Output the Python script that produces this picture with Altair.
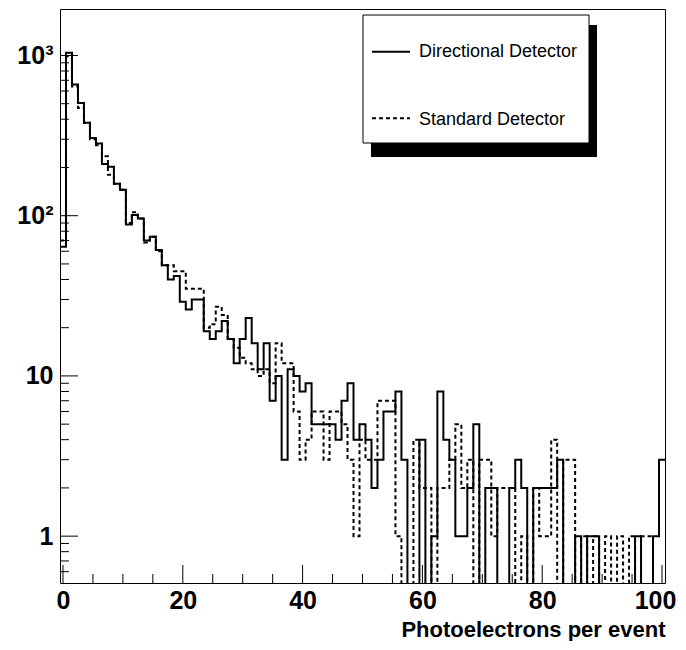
import altair as alt
import pandas as pd

# ---- data (bin centres 0..100, counts per bin) ----
bins = list(range(0, 101))
directional = [
    64, 1040, 660, 505, 380, 305, 282, 210, 202, 158,
    145, 88, 101, 96, 70, 74, 61, 49, 40, 42,
    29, 26, 30, 30, 19, 17, 19, 22, 17, 12,
    17, 23, 16, 11, 16, 7, 10, 3, 11, 10,
    8, 9, 5, 5, 5, 5, 4, 7, 9, 4,
    5, 4, 2, 3, 6, 6, 8, 3, 0, 0,
    4, 0, 1, 8, 4, 3, 1, 1, 2, 5,
    0, 2, 2, 0, 0, 2, 3, 2, 0, 2,
    2, 2, 2, 3, 0, 0, 1, 0, 1, 1,
    0, 0, 0, 0, 0, 0, 1, 0, 0, 1,
    3,
]
standard = [
    70, 990, 640, 470, 380, 300, 275, 235, 180, 158,
    145, 90, 105, 96, 68, 74, 60, 49, 49, 45,
    45, 35, 35, 35, 20, 21, 27, 24, 17, 15,
    13, 12, 11, 10, 11, 9, 16, 12, 12, 6,
    3, 4, 6, 6, 3, 6, 6, 5, 3, 1,
    4, 3, 3, 7, 7, 7, 1, 0, 0, 4,
    2, 2, 0, 2, 2, 3, 5, 2, 3, 0,
    3, 3, 1, 2, 2, 2, 0, 1, 0, 2,
    1, 1, 4, 0, 3, 3, 0, 1, 0, 1,
    0, 1, 0, 1, 0, 1, 0, 1, 1, 0,
    0,
]
series_names = ["Directional Detector", "Standard Detector"]

y_major = [1, 10, 100, 1000]
y_minor = [0.6, 0.7, 0.8, 0.9, 2, 3, 4, 5, 6, 7, 8, 9,
           20, 30, 40, 50, 60, 70, 80, 90,
           200, 300, 400, 500, 600, 700, 800, 900]
x_major = [0, 20, 40, 60, 80, 100]
x_minor = [5, 10, 15, 25, 30, 35, 45, 50, 55, 65, 70, 75, 85, 90, 95]

W, H = 605, 574
FONT = "Liberation Sans"


def steps(vals, name):
    rows = [{"edge": b - 0.5, "count": v, "series": name} for b, v in zip(bins, vals)]
    rows.append({"edge": bins[-1] + 0.5, "count": vals[-1], "series": name})
    return rows


df = pd.DataFrame(steps(directional, series_names[0]) + steps(standard, series_names[1]))

xscale = alt.Scale(domain=[-0.5, 100.5], nice=False, zero=False)
yscale = alt.Scale(type="log", domain=[0.51, 1950], nice=False)

xaxis = alt.Axis(
    values=x_major, format="d", ticks=False, tickSize=0, domain=False, grid=False,
    labelFont=FONT, labelFontWeight="bold", labelFontSize=25, labelColor="black",
    labelPadding=5, labelFlush=False,
    labelOffset={"condition": {"test": "datum.value >= 100", "value": -7}, "value": 0},
    title="Photoelectrons per event", titleFont=FONT, titleFontWeight="bold",
    titleFontSize=22, titleColor="black", titleAnchor="end", titlePadding=6,
)
yaxis = alt.Axis(
    values=y_major, ticks=False, tickSize=0, domain=False, grid=False,
    labelExpr="datum.value >= 1000 ? '10³' : datum.value >= 100 ? '10²' : datum.value >= 10 ? '10' : '1'",
    labelFont=FONT, labelFontWeight="bold", labelFontSize=25, labelColor="black",
    labelPadding=7, labelFlush=False, title="",
)

base = alt.Chart(df).transform_calculate(plotted="max(datum.count, 0.05)")

dashed = base.transform_filter(alt.datum.series == series_names[1]).mark_line(
    interpolate="step-after", clip=True, color="black", strokeWidth=2, strokeDash=[4, 3]
).encode(
    x=alt.X("edge:Q", scale=xscale, axis=xaxis),
    y=alt.Y("plotted:Q", scale=yscale, axis=yaxis),
)
solid = base.transform_filter(alt.datum.series == series_names[0]).mark_line(
    interpolate="step-after", clip=True, color="black", strokeWidth=2
).encode(
    x=alt.X("edge:Q", scale=xscale, axis=xaxis),
    y=alt.Y("plotted:Q", scale=yscale, axis=yaxis),
)


# ---- inward ticks (ROOT style) ----
def yticks(vals, length):
    return alt.Chart(pd.DataFrame({"v": vals})).mark_rule(color="black", strokeWidth=1).encode(
        y=alt.Y("v:Q", scale=yscale, axis=yaxis), x=alt.value(0), x2=alt.value(length)
    )


def xticks(vals, length):
    return alt.Chart(pd.DataFrame({"v": vals})).mark_rule(color="black", strokeWidth=1).encode(
        x=alt.X("v:Q", scale=xscale, axis=xaxis), y=alt.value(H), y2=alt.value(H - length)
    )


# ---- legend box with shadow ----
one = pd.DataFrame({"a": [0]})
shadow = alt.Chart(one).mark_rect(color="black").encode(
    x=alt.value(311), x2=alt.value(537), y=alt.value(16), y2=alt.value(148)
)
box = alt.Chart(one).mark_rect(fill="white", stroke="black", strokeWidth=1).encode(
    x=alt.value(303), x2=alt.value(529), y=alt.value(6), y2=alt.value(134)
)
sample_solid = alt.Chart(one).mark_rule(color="black", strokeWidth=2).encode(
    x=alt.value(312), x2=alt.value(350), y=alt.value(42.7)
)
sample_dash = alt.Chart(one).mark_rule(color="black", strokeWidth=2, strokeDash=[4, 3]).encode(
    x=alt.value(312), x2=alt.value(350), y=alt.value(109.3)
)
txt_solid = alt.Chart(pd.DataFrame({"label": [series_names[0]]})).mark_text(
    align="left", baseline="alphabetic", font=FONT, fontSize=18, color="black"
).encode(x=alt.value(359), y=alt.value(47.7), text="label:N")
txt_dash = alt.Chart(pd.DataFrame({"label": [series_names[1]]})).mark_text(
    align="left", baseline="alphabetic", font=FONT, fontSize=18, color="black"
).encode(x=alt.value(359), y=alt.value(116), text="label:N")

chart = alt.layer(
    dashed, solid,
    yticks(y_major, 18), yticks(y_minor, 9),
    xticks(x_major, 18), xticks(x_minor, 9),
    shadow, box, sample_solid, sample_dash, txt_solid, txt_dash,
).properties(
    width=W, height=H, autosize="none",
    padding={"left": 52, "top": 1, "right": 13, "bottom": 58},
    background="white",
).configure_view(stroke="black", strokeWidth=1)

chart.save("out.html", embed_options={"renderer": "svg", "actions": False})
